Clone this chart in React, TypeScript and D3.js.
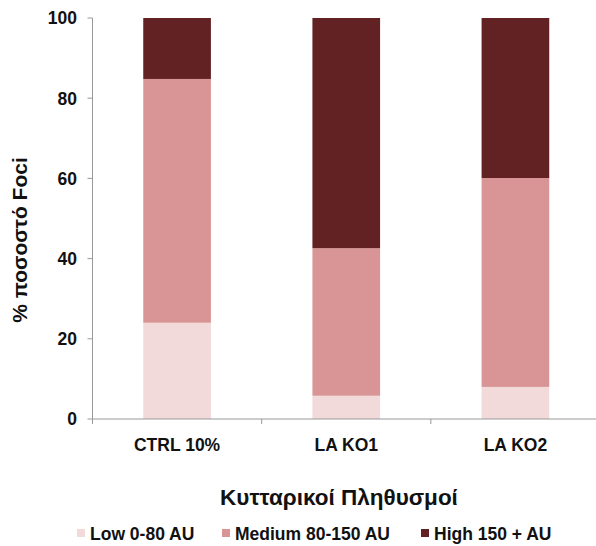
import * as d3 from 'd3'

const categories = ['CTRL 10%', 'LA KO1', 'LA KO2']
const seriesNames = ['Low 0-80 AU', 'Medium 80-150 AU', 'High 150 + AU']
const seriesColors = ['#f2dadb', '#d99595', '#622223']
const lowValues = [24, 5.8, 8]
const mediumValues = [60.8, 36.8, 52.1]
const highValues = [15.2, 57.4, 39.9]
const yTicks = [0, 20, 40, 60, 80, 100]

export default function App() {
  const width = 596
  const height = 546
  const left = 92.5
  const right = 600
  const top = 18
  const bottom = 419

  const rows = categories.map((c, i) => ({
    cat: c,
    low: lowValues[i],
    medium: mediumValues[i],
    high: highValues[i],
  }))
  const stacked = d3.stack<any>().keys(['low', 'medium', 'high'])(rows)

  const x = d3.scaleBand().domain(categories).range([left, right]).paddingInner(0.6).paddingOuter(0.3)
  const y = d3.scaleLinear().domain([0, 100]).range([bottom, top])
  const boundaries = d3.range(categories.length + 1).map((i) => left + (i * (right - left)) / categories.length)

  const font = '"Liberation Sans", Arial, sans-serif'
  const legendX = [77, 222, 421]

  return (
    <svg width={width} height={height} style={{ position: 'absolute', left: 0, top: 0 }} fontFamily={font}>
      <rect width={width} height={height} fill="#fff" />
      {stacked.map((s, si) =>
        s.map((d, i) => (
          <rect
            key={`${si}-${i}`}
            x={x(categories[i])}
            y={y(d[1])}
            width={x.bandwidth()}
            height={y(d[0]) - y(d[1])}
            fill={seriesColors[si]}
          />
        ))
      )}
      <line x1={left} x2={left} y1={top} y2={bottom} stroke="#999" strokeWidth={1} />
      <line x1={left} x2={width} y1={bottom} y2={bottom} stroke="#999" strokeWidth={1} />
      {yTicks.map((t) => (
        <g key={t}>
          <line x1={left - 5} x2={left} y1={y(t)} y2={y(t)} stroke="#999" />
          <text x={77} y={y(t)} dy="0.36em" textAnchor="end" fontSize={17.5} fontWeight="bold" fill="#111">
            {t}
          </text>
        </g>
      ))}
      {boundaries.map((b, i) => (
        <line key={i} x1={b} x2={b} y1={bottom} y2={bottom + 5} stroke="#999" />
      ))}
      {categories.map((c) => (
        <text
          key={c}
          x={(x(c) ?? 0) + x.bandwidth() / 2}
          y={451}
          textAnchor="middle"
          fontSize={17.5}
          fontWeight="bold"
          fill="#111"
        >
          {c}
        </text>
      ))}
      <text
        transform={`translate(27,240) rotate(-90)`}
        textAnchor="middle"
        fontSize={21}
        fontWeight="bold"
        fill="#111"
      >
        % ποσοστό Foci
      </text>
      <text x={339} y={505} textAnchor="middle" fontSize={22.5} fontWeight="bold" fill="#111">
        Κυτταρικοί Πληθυσμοί
      </text>
      {seriesNames.map((n, i) => (
        <g key={n}>
          <rect x={legendX[i]} y={529} width={8} height={8} fill={seriesColors[i]} />
          <text x={legendX[i] + 13} y={540} fontSize={17.5} fontWeight="bold" fill="#111">
            {n}
          </text>
        </g>
      ))}
    </svg>
  )
}
